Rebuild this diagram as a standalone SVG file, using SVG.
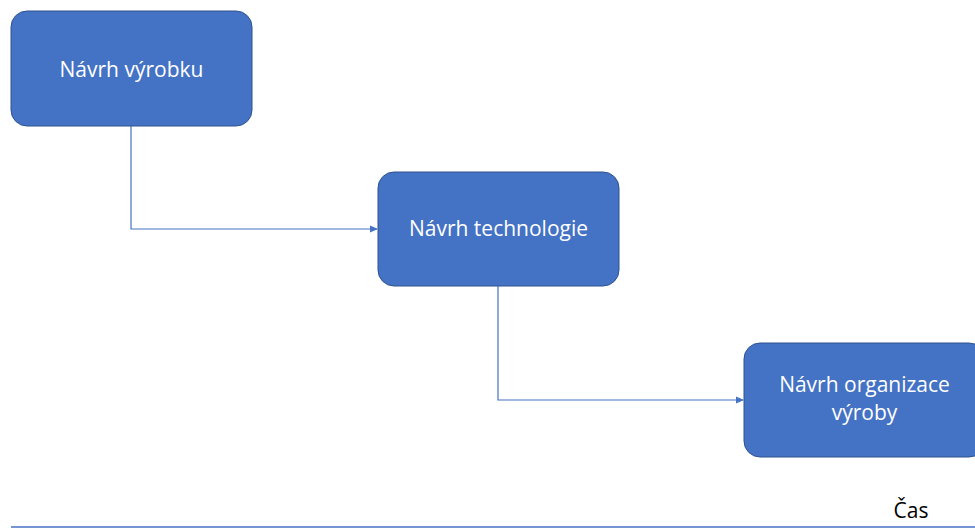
<svg xmlns="http://www.w3.org/2000/svg" width="975" height="528" viewBox="0 0 975 528">
<defs>
<style>
.box{fill:#4472C4;stroke:#2F528F;stroke-width:1}
.lbl{font-family:"Open Sans","Noto Sans","Liberation Sans",sans-serif;font-size:21px;fill:#ffffff;text-anchor:middle}
.con{fill:none;stroke:#4472C4;stroke-width:1.2}
</style>
<marker id="arr" markerWidth="8" markerHeight="8" refX="7" refY="4" orient="auto" markerUnits="userSpaceOnUse">
<path d="M0,0.5 L8,4 L0,7.5 Z" fill="#4472C4"/>
</marker>
</defs>
<rect width="975" height="528" fill="#ffffff"/>
<g id="connectors">
<path class="con" d="M131,126 V229 H377" marker-end="url(#arr)"/>
<path class="con" d="M498,286 V400 H743" marker-end="url(#arr)"/>
<line x1="11" y1="527" x2="975" y2="527" stroke="#4472C4" stroke-width="1.5"/>
</g>
<g id="n1">
<rect class="box" x="11" y="11" width="241" height="115" rx="16"/>
<text class="lbl" x="131.5" y="77">Návrh výrobku</text>
</g>
<g id="n2">
<rect class="box" x="378" y="172" width="241" height="114" rx="16"/>
<text class="lbl" x="498.5" y="236">Návrh technologie</text>
</g>
<g id="n3">
<rect class="box" x="744" y="343" width="241" height="114" rx="16"/>
<text class="lbl" x="864.5" y="392">Návrh organizace</text>
<text class="lbl" x="864.5" y="420">výroby</text>
</g>
<g id="time">
<text x="911" y="518" font-family="'Open Sans','Noto Sans','Liberation Sans',sans-serif" font-size="21" fill="#000000" text-anchor="middle">Čas</text>
</g>
</svg>
